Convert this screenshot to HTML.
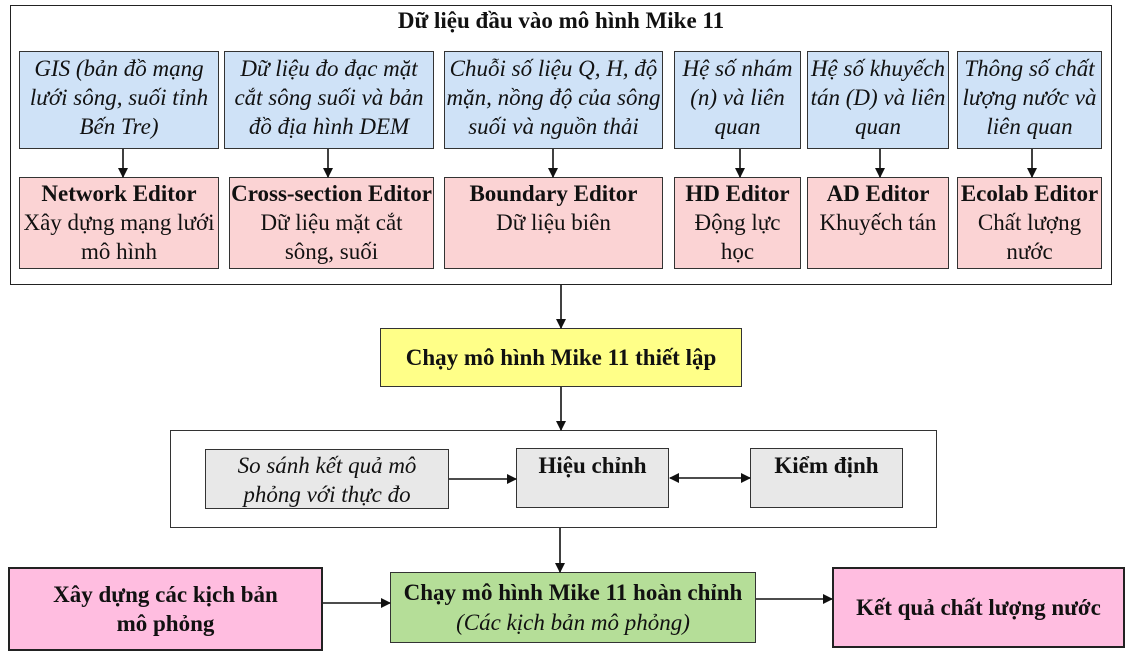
<!DOCTYPE html>
<html><head><meta charset="utf-8"><style>
body{margin:0;width:1133px;height:654px;background:#fff;position:relative;overflow:hidden;font-family:"Liberation Serif","DejaVu Serif",serif;color:#111}
.b{position:absolute;box-sizing:border-box;border:1.5px solid #333;display:flex;flex-direction:column;align-items:center;justify-content:flex-start;text-align:center;font-size:23px;line-height:29px;white-space:nowrap}
.blue{background:#cfe2f7;font-style:italic;padding-top:2px}
.pink{background:#fbd3d4;padding-top:1px}
.bold{font-weight:bold}
svg{position:absolute;left:0;top:0}
</style></head><body>
<div class="b" style="left:10px;top:5px;width:1102px;height:280px;border:1.5px solid #222;background:#fff;"></div>
<div style="position:absolute;left:10px;top:6px;width:1102px;text-align:center;font-weight:bold;font-size:23px;line-height:30px">Dữ liệu đầu vào mô hình Mike 11</div>

<div class="b blue" style="left:19px;top:51px;width:200px;height:98px">GIS (bản đồ mạng<br>lưới sông, suối tỉnh<br>Bến Tre)</div>
<div class="b blue" style="left:224px;top:51px;width:210px;height:98px">Dữ liệu đo đạc mặt<br>cắt sông suối và bản<br>đồ địa hình DEM</div>
<div class="b blue" style="left:444px;top:51px;width:219px;height:98px">Chuỗi số liệu Q, H, độ<br>mặn, nồng độ của sông<br>suối và nguồn thải</div>
<div class="b blue" style="left:674px;top:51px;width:127px;height:98px">Hệ số nhám<br>(n) và liên<br>quan</div>
<div class="b blue" style="left:807px;top:51px;width:142px;height:98px">Hệ số khuyếch<br>tán (D) và liên<br>quan</div>
<div class="b blue" style="left:957px;top:51px;width:145px;height:98px">Thông số chất<br>lượng nước và<br>liên quan</div>

<div class="b pink" style="left:19px;top:177px;width:200px;height:92px"><span class="bold">Network Editor</span>Xây dựng mạng lưới<br>mô hình</div>
<div class="b pink" style="left:229px;top:177px;width:205px;height:92px"><span class="bold">Cross-section Editor</span>Dữ liệu mặt cắt<br>sông, suối</div>
<div class="b pink" style="left:444px;top:177px;width:219px;height:92px"><span class="bold">Boundary Editor</span>Dữ liệu biên</div>
<div class="b pink" style="left:674px;top:177px;width:127px;height:92px"><span class="bold">HD Editor</span>Động lực<br>học</div>
<div class="b pink" style="left:807px;top:177px;width:142px;height:92px"><span class="bold">AD Editor</span>Khuyếch tán</div>
<div class="b pink" style="left:957px;top:177px;width:145px;height:92px"><span class="bold">Ecolab Editor</span>Chất lượng<br>nước</div>

<div class="b bold" style="left:380px;top:328px;width:362px;height:59px;background:#ffff88;justify-content:center">Chạy mô hình Mike 11 thiết lập</div>

<div class="b" style="left:170px;top:430px;width:767px;height:98px;background:#fff"></div>
<div class="b" style="left:205px;top:449px;width:244px;height:60px;background:#e8e8e8;font-style:italic;line-height:29px;padding-top:1px">So sánh kết quả mô<br>phỏng với thực đo</div>
<div class="b bold" style="left:516px;top:448px;width:153px;height:60px;background:#e8e8e8;padding-top:2px">Hiệu chỉnh</div>
<div class="b bold" style="left:750px;top:448px;width:153px;height:60px;background:#e8e8e8;padding-top:2px">Kiểm định</div>

<div class="b" style="left:390px;top:572px;width:366px;height:71px;background:#b5de98;justify-content:center;line-height:30px"><span class="bold">Chạy mô hình Mike 11 hoàn chỉnh</span><i>(Các kịch bản mô phỏng)</i></div>
<div class="b bold" style="left:8px;top:567px;width:315px;height:84px;background:#ffbde0;justify-content:center;border:2px solid #222">Xây dựng các kịch bản<br>mô phỏng</div>
<div class="b bold" style="left:832px;top:567px;width:293px;height:81px;background:#ffbde0;justify-content:center;border:2px solid #222">Kết quả chất lượng nước</div>

<svg width="1133" height="654">
<defs><marker id="a" markerWidth="10" markerHeight="10" refX="9" refY="5" orient="auto" markerUnits="userSpaceOnUse"><path d="M0,0 L10,5 L0,10 z" fill="#111"/></marker>
<marker id="s" markerWidth="10" markerHeight="10" refX="1" refY="5" orient="auto" markerUnits="userSpaceOnUse"><path d="M10,0 L0,5 L10,10 z" fill="#111"/></marker></defs>
<g stroke="#111" stroke-width="1.6" marker-end="url(#a)">
<line x1="123" y1="149" x2="123" y2="177"/>
<line x1="328" y1="149" x2="328" y2="177"/>
<line x1="553" y1="149" x2="553" y2="177"/>
<line x1="740" y1="149" x2="740" y2="177"/>
<line x1="880" y1="149" x2="880" y2="177"/>
<line x1="1032" y1="149" x2="1032" y2="177"/>
<line x1="561" y1="285" x2="561" y2="328"/>
<line x1="561" y1="387" x2="561" y2="430"/>
<line x1="449" y1="479" x2="516" y2="479"/>
<line x1="670" y1="478" x2="750" y2="478" marker-start="url(#s)"/>
<line x1="560" y1="528" x2="560" y2="572"/>
<line x1="323" y1="603" x2="390" y2="603"/>
<line x1="756" y1="599" x2="832" y2="599"/>
</g>
</svg>
</body></html>
